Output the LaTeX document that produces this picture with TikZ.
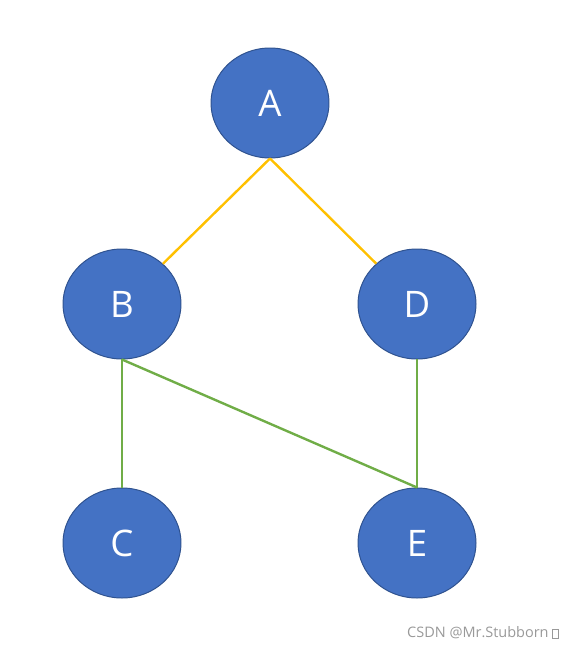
\documentclass[tikz,border=0pt]{standalone}
\usepackage{fontspec}
\setmainfont{Open Sans}
\usetikzlibrary{shapes.geometric}
\definecolor{nodeBlue}{HTML}{4472C4}
\definecolor{nodeEdge}{HTML}{2F528F}
\definecolor{linkGold}{HTML}{FFC000}
\definecolor{linkGreen}{HTML}{70AD47}
\definecolor{markGray}{HTML}{999999}
\begin{document}
\begin{tikzpicture}[
        x=0.025cm, y=-0.025cm,
        vertex/.style={ellipse, draw=nodeEdge, fill=nodeBlue, line width=0.7pt, minimum width=118*0.025cm, minimum height=110*0.025cm, inner sep=0pt, text=white, font=\fontsize{26}{30}\selectfont},
        goldLink/.style={draw=linkGold, line width=1.7pt},
        greenLink/.style={draw=linkGreen, line width=1.7pt}
    ]
        \useasboundingbox (0,0) rectangle (574,650);

        % Vertices
        \node[vertex] (A) at (270,103) {A};
        \node[vertex] (B) at (122,304) {B};
        \node[vertex] (D) at (417,304) {D};
        \node[vertex] (C) at (122,543) {C};
        \node[vertex] (E) at (417,543) {E};

        % Links
        \draw[goldLink] (A.south) -- (B);
        \draw[goldLink] (A.south) -- (D);
        \draw[greenLink] (B.south) -- (C.north);
        \draw[greenLink] (B.south) -- (E.north);
        \draw[greenLink] (D.south) -- (E.north);

        % Watermark
        \node[anchor=east, text=markGray, font=\fontsize{10.3}{12}\selectfont, inner sep=0pt] (mark) at (559,633) {CSDN @Mr.Stubborn \raisebox{0pt}{\setlength{\fboxsep}{0pt}\setlength{\fboxrule}{0.5pt}\fbox{\rule{0pt}{5.5pt}\hspace{3.5pt}}}};
    \end{tikzpicture}
\end{document}
